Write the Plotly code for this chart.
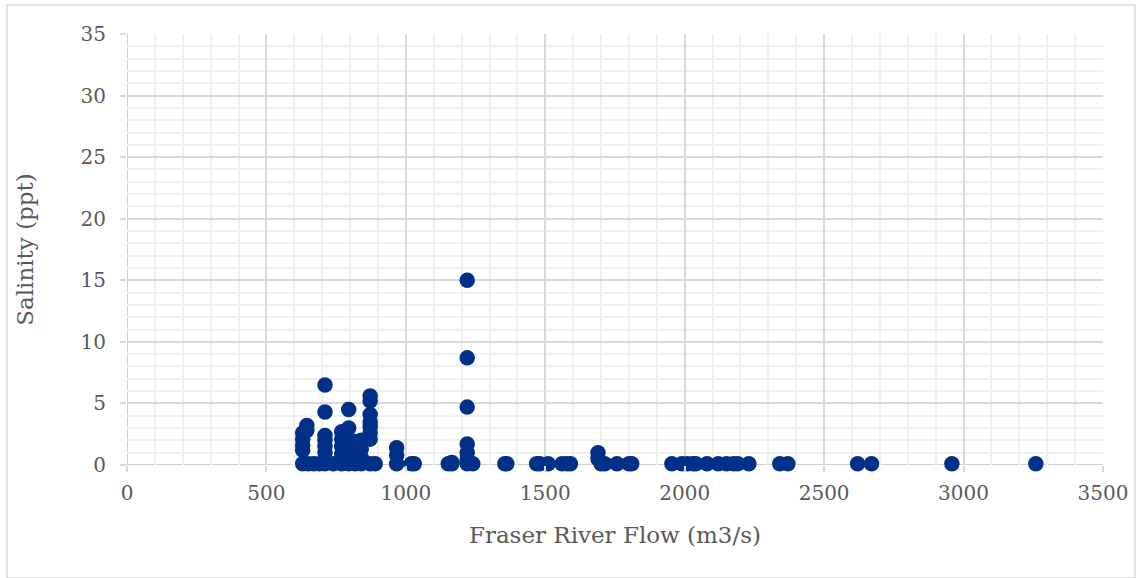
import plotly.graph_objects as go

# Fraser River flow (m3/s) and salinity (ppt) sample pairs
flow = [
    630, 630, 630, 630, 630, 645, 645, 650,
    670, 690,
    710, 710, 710, 710, 710, 710, 710,
    740,
    770, 770, 770, 770, 770, 770,
    795, 795, 795, 795, 795, 795,
    818, 818, 818, 818,
    840, 840, 840, 840,
    872, 872, 872, 872, 872, 872, 872, 872,
    890,
    967, 967, 967,
    1020, 1030,
    1152, 1165, 1165,
    1220, 1220, 1220, 1220, 1220, 1220, 1220,
    1240,
    1355, 1362,
    1469, 1480, 1510, 1560, 1577, 1590,
    1689, 1689, 1700, 1713, 1757, 1800, 1810,
    1954, 1990, 2010, 2030, 2040, 2080, 2120, 2150, 2175, 2190, 2230,
    2341, 2370,
    2620, 2670,
    2958, 3259,
]
salinity = [
    2.6, 2.1, 1.6, 1.2, 0.1, 3.2, 2.8, 0.1,
    0.1, 0.1,
    6.5, 4.3, 2.4, 2.0, 1.5, 1.0, 0.1,
    0.1,
    2.7, 2.1, 1.5, 0.9, 0.4, 0.1,
    4.5, 3.0, 1.9, 1.0, 0.5, 0.1,
    1.9, 1.2, 0.5, 0.1,
    2.0, 1.3, 0.6, 0.1,
    5.6, 5.2, 4.1, 3.5, 3.1, 2.6, 2.1, 0.1,
    0.1,
    1.4, 0.8, 0.1,
    0.1, 0.1,
    0.1, 0.1, 0.2,
    15.0, 8.7, 4.7, 1.7, 1.0, 0.4, 0.1,
    0.1,
    0.1, 0.1,
    0.1, 0.1, 0.1, 0.1, 0.1, 0.1,
    1.0, 0.5, 0.1, 0.1, 0.1, 0.1, 0.1,
    0.1, 0.1, 0.1, 0.1, 0.1, 0.1, 0.1, 0.1, 0.1, 0.1, 0.1,
    0.1, 0.1,
    0.1, 0.1,
    0.1, 0.1,
]

x_ticks = [0, 500, 1000, 1500, 2000, 2500, 3000, 3500]
y_ticks = [0, 5, 10, 15, 20, 25, 30, 35]

TEXT = "#595959"
FONT = "DejaVu Serif"

fig = go.Figure(
    go.Scatter(
        x=flow,
        y=salinity,
        mode="markers",
        marker=dict(color="#003087", size=15.5, line=dict(width=0)),
        cliponaxis=False,
        showlegend=False,
    )
)

axis_common = dict(
    showgrid=True,
    gridcolor="#d9d9d9",
    gridwidth=1.5,
    zeroline=False,
    showline=False,
    ticks="outside",
    ticklen=6,
    tickcolor="#d9d9d9",
    tickwidth=1.5,
    tickfont=dict(family=FONT, size=20, color=TEXT),
)

fig.update_xaxes(
    **axis_common,
    range=[0, 3500],
    tickvals=x_ticks,
    ticktext=[str(v) for v in x_ticks],
    ticklabelstandoff=4,
    minor=dict(dtick=100, showgrid=True, gridcolor="#f0f0f0", gridwidth=1.5),
    title=dict(text="Fraser River Flow (m3/s)", font=dict(family=FONT, size=23, color=TEXT), standoff=22),
)
fig.update_yaxes(
    **axis_common,
    range=[0, 35],
    tickvals=y_ticks,
    ticktext=[str(v) for v in y_ticks],
    ticklabelstandoff=10,
    minor=dict(dtick=1, showgrid=True, gridcolor="#f0f0f0", gridwidth=1.5),
    title=dict(text="Salinity (ppt)", font=dict(family=FONT, size=23, color=TEXT), standoff=40),
)

# axis lines at zero and the outer chart frame
fig.add_shape(type="line", xref="x", yref="paper", x0=0, x1=0, y0=0, y1=1,
              line=dict(color="#bfbfbf", width=1.5), layer="below")
fig.add_shape(type="line", xref="paper", yref="y", x0=0, x1=1, y0=0, y1=0,
              line=dict(color="#bfbfbf", width=1.5), layer="below")
fig.add_shape(type="rect", xref="paper", yref="paper",
              x0=-0.123, x1=1.0328, y0=-0.262, y1=1.0673,
              line=dict(color="#d9d9d9", width=1.5), layer="below")

fig.update_layout(
    width=1145,
    height=578,
    margin=dict(l=127, r=42, t=34, b=113),
    paper_bgcolor="white",
    plot_bgcolor="white",
    font=dict(family=FONT, color=TEXT),
)

fig.write_html("out.html")
